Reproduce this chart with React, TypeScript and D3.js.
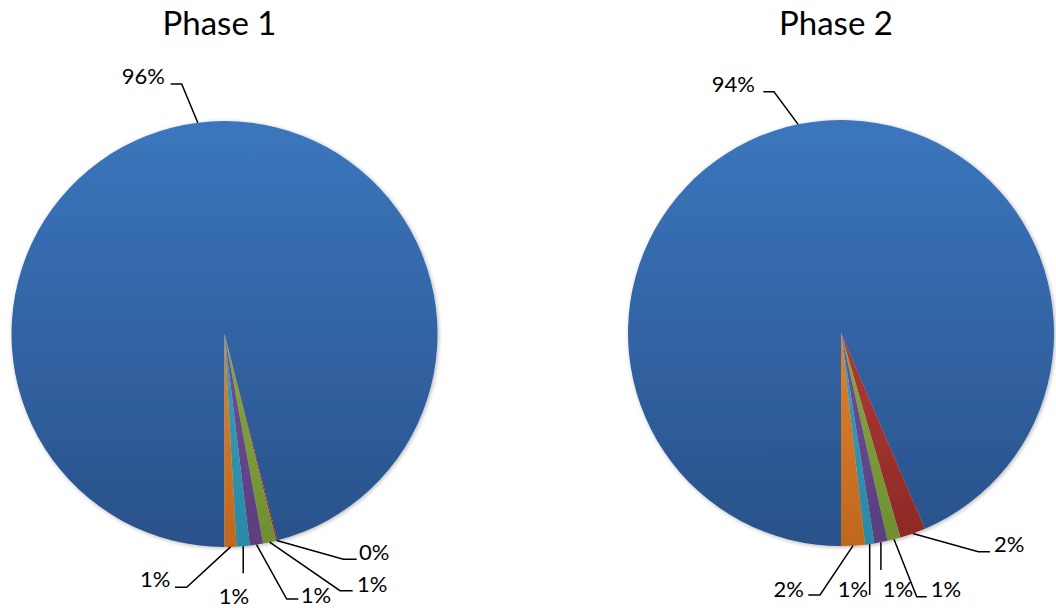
import React from "react";
import * as d3 from "d3";

// Share of each category per phase (percent of total)
const categories = ["A", "B", "C", "D", "E", "F"];
const phaseTitles = ["Phase 1", "Phase 2"];
const phase1Values = [96.0, 0.1, 1.0, 1.0, 1.0, 0.9];
const phase2Values = [93.55, 1.95, 1.0, 1.0, 0.7, 1.8];

// Vertical gradient stops per category (top, bottom)
const sliceShades: [string, string][] = [
  ["#3B76BD", "#29518A"],
  ["#D24A45", "#8C2926"],
  ["#A0C650", "#6E8E31"],
  ["#8262AE", "#5A3E7F"],
  ["#4BB6D4", "#2889A6"],
  ["#FA9C42", "#BF671D"],
];

const W = 1056;
const H = 608;
const R = 213;

type LabelLayout = {
  tx: number;
  ty: number;
  anchor: "start" | "middle" | "end";
  ex: number | null; // elbow x (null = straight down from slice edge)
  ey: number;
  hx?: number; // end of horizontal segment
};

// Label placement relative to each pie centre, in slice order
const layouts: LabelLayout[][] = [
  [
    { tx: -59.5, ty: -250, anchor: "end", ex: -42.8, ey: -250, hx: -53.8 },
    { tx: 134.5, ty: 226, anchor: "start", ex: 118.8, ey: 225.3, hx: 132.2 },
    { tx: 132.5, ty: 258, anchor: "start", ex: 115.5, ey: 256.7, hx: 128.2 },
    { tx: 76.2, ty: 268.5, anchor: "start", ex: 62.2, ey: 265, hx: 73.8 },
    { tx: 9.5, ty: 270, anchor: "middle", ex: null, ey: 239.3 },
    { tx: -54, ty: 253, anchor: "end", ex: -37.8, ey: 253.3, hx: -49.5 },
  ],
  [
    { tx: -86, ty: -241, anchor: "end", ex: -67, ey: -241.3, hx: -77.7 },
    { tx: 153, ty: 218.7, anchor: "start", ex: 137.3, ey: 218.7, hx: 149 },
    { tx: 89.7, ty: 263.7, anchor: "start", ex: 75.7, ey: 263.7, hx: 85.7 },
    { tx: 57, ty: 264, anchor: "middle", ex: null, ey: 237 },
    { tx: 12, ty: 264, anchor: "middle", ex: null, ey: 262 },
    { tx: -37, ty: 264, anchor: "end", ex: -21, ey: 262, hx: -32.7 },
  ],
];

const pies = [
  { title: phaseTitles[0], values: phase1Values, cx: 224.5, cy: 334 },
  { title: phaseTitles[1], values: phase2Values, cx: 841, cy: 333 },
];

const FONT = "Lato, 'Noto Sans', sans-serif";

function PieChart({
  index,
  title,
  values,
  cx,
  cy,
}: {
  index: number;
  title: string;
  values: number[];
  cx: number;
  cy: number;
}) {
  const data = categories.map((c, i) => ({ name: c, value: values[i], i }));
  const total = d3.sum(values);
  const pie = d3
    .pie<(typeof data)[number]>()
    .value((d) => d.value)
    .sort(null)
    .startAngle(-Math.PI)
    .endAngle(Math.PI);
  const arcs = pie(data);
  const arc = d3
    .arc<d3.PieArcDatum<(typeof data)[number]>>()
    .innerRadius(0)
    .outerRadius(R);
  const fmt = (v: number) => `${Math.round((v / total) * 100)}%`;

  return (
    <g transform={`translate(${cx},${cy})`}>
      <defs>
        {sliceShades.map(([top, bottom], i) => (
          <linearGradient
            key={i}
            id={`shade-${index}-${i}`}
            gradientUnits="userSpaceOnUse"
            x1={0}
            y1={-R}
            x2={0}
            y2={R}
          >
            <stop offset="0" stopColor={top} />
            <stop offset="1" stopColor={bottom} />
          </linearGradient>
        ))}
      </defs>
      <text
        x={-5}
        y={35 - cy}
        textAnchor="middle"
        fontFamily={FONT}
        fontSize={33}
        fill="#000"
      >
        {title}
      </text>
      <g filter="url(#pieShadow)">
        {arcs.map((a) => (
          <path key={a.data.name} d={arc(a) || ""} fill={`url(#shade-${index}-${a.data.i})`} />
        ))}
      </g>
      {arcs.map((a) => {
        const L = layouts[index][a.data.i];
        const mid = (a.startAngle + a.endAngle) / 2;
        const sx = Math.sin(mid) * R;
        const sy = -Math.cos(mid) * R;
        const pts: [number, number][] = [[sx, sy]];
        if (L.ex === null) {
          pts.push([sx, L.ey]);
        } else {
          pts.push([L.ex, L.ey]);
          if (L.hx !== undefined) pts.push([L.hx, L.ey]);
        }
        return (
          <g key={`lbl-${a.data.name}`}>
            <path
              d={d3.line()(pts) || ""}
              fill="none"
              stroke="#000"
              strokeWidth={1.5}
            />
            <text
              x={L.tx}
              y={L.ty}
              textAnchor={L.anchor}
              fontFamily={FONT}
              fontSize={22}
              fill="#000"
            >
              {fmt(a.data.value)}
            </text>
          </g>
        );
      })}
    </g>
  );
}

export default function App() {
  return (
    <div style={{ position: "fixed", left: 0, top: 0 }}>
      <svg width={W} height={H} style={{ display: "block", background: "#fff" }}>
        <defs>
          <filter id="pieShadow" x="-10%" y="-10%" width="120%" height="120%">
            <feDropShadow dx={1} dy={1} stdDeviation={2.2} floodColor="#000" floodOpacity={0.3} />
          </filter>
        </defs>
        {pies.map((p, i) => (
          <PieChart key={p.title} index={i} {...p} />
        ))}
      </svg>
    </div>
  );
}
